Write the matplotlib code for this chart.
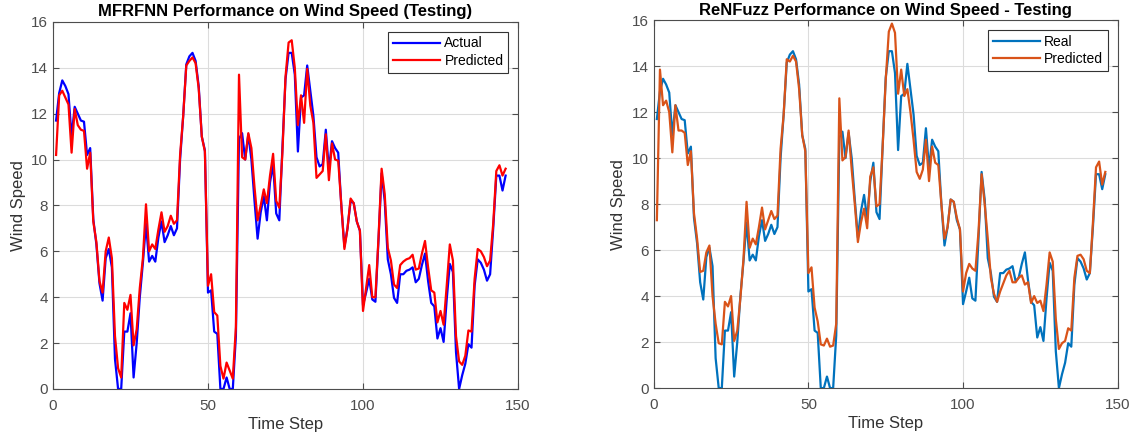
import numpy as np
import matplotlib
matplotlib.use("Agg")
import matplotlib.pyplot as plt

plt.rcParams['font.family'] = ['Liberation Sans', 'DejaVu Sans']

# --- data ---
actual = [11.7, 12.9, 13.45, 13.2, 12.85, 11.0, 12.3, 12.0, 11.7, 11.65,
          10.2, 10.5, 7.4, 6.3, 4.6, 3.85, 5.7, 6.1, 5.3, 1.3,
          0.0, 0.0, 2.5, 2.5, 3.3, 0.5, 2.0, 4.0, 5.5, 7.2,
          5.55, 5.8, 5.55, 6.6, 7.3, 6.4, 6.7, 7.1, 6.7, 7.0,
          10.0, 11.9, 14.15, 14.5, 14.65, 14.3, 13.2, 11.0, 10.4, 4.2,
          4.3, 2.5, 2.4, 0.0, 0.0, 0.5, 0.0, 0.0, 2.3, 10.9,
          11.15, 10.0, 11.1, 10.0, 8.2, 6.55, 7.7, 8.4, 7.35, 9.0,
          9.8, 7.65, 7.35, 10.5, 13.5, 14.65, 14.65, 13.7, 10.35, 12.7,
          12.8, 14.1, 13.0, 11.9, 10.1, 9.7, 9.8, 11.3, 9.55, 10.8,
          10.5, 10.3, 8.0, 6.2, 7.0, 8.2, 8.1, 7.3, 6.9, 3.65,
          4.2, 4.8, 3.9, 3.8, 6.5, 9.4, 8.2, 5.65, 5.0, 3.97,
          3.75, 5.0, 5.0, 5.15, 5.2, 5.3, 4.65, 4.8, 5.4, 5.9,
          4.7, 3.75, 3.6, 2.2, 2.65, 2.05, 3.9, 5.45, 5.1, 1.6,
          0.0, 0.6, 1.1, 1.95, 1.8, 4.5, 5.65, 5.5, 5.2, 4.72,
          5.0, 7.0, 9.3, 9.3, 8.65, 9.3]

pred_mfrfnn = [10.2, 12.8, 13.0, 12.7, 12.4, 10.3, 12.2, 11.5, 11.3, 11.25,
               9.6, 10.3, 7.3, 6.4, 4.7, 4.2, 6.0, 6.6, 5.7, 2.3,
               0.9, 0.5, 3.75, 3.45, 4.1, 1.9, 2.6, 4.4, 5.7, 8.05,
               6.0, 6.3, 6.1, 6.95, 7.7, 6.85, 7.1, 7.55, 7.2, 7.35,
               10.2, 11.9, 14.1, 14.3, 14.45, 14.2, 13.1, 11.0, 10.35, 4.5,
               5.0, 3.35, 3.2, 1.0, 0.45, 1.15, 0.8, 0.45, 2.7, 13.7,
               10.1, 10.0, 11.15, 10.5, 8.8, 7.35, 8.0, 8.7, 8.1, 9.3,
               10.25, 8.2, 7.9, 10.3, 13.6, 15.1, 15.2, 14.0, 11.5, 12.8,
               11.6, 13.95, 12.35, 11.6, 9.2, 9.35, 9.5, 11.1, 9.1, 10.7,
               10.0, 9.95, 8.0, 6.1, 7.0, 8.3, 8.1, 7.3, 6.9, 3.4,
               4.4, 5.4, 4.0, 4.0, 6.6, 9.6, 8.5, 6.15, 5.6, 4.55,
               4.4, 5.4, 5.55, 5.65, 5.7, 5.85, 5.2, 5.25, 5.9, 6.45,
               5.3, 4.3, 4.2, 2.9, 3.4, 2.8, 4.5, 6.3, 5.6, 2.3,
               1.2, 1.05, 1.45, 2.55, 2.5, 4.8, 6.1, 6.0, 5.75, 5.35,
               5.6, 7.2, 9.5, 9.75, 9.3, 9.6]

pred_renfuzz = [7.3, 13.85, 12.3, 12.5, 12.0, 10.25, 12.3, 11.2, 11.2, 11.1,
                9.7, 10.3, 7.6, 6.5, 5.05, 5.1, 5.9, 6.2, 4.0, 2.8,
                1.95, 1.9, 3.75, 3.55, 4.0, 2.05, 2.5, 3.9, 5.6, 8.1,
                6.1, 6.5, 6.25, 7.0, 7.85, 6.9, 7.3, 7.7, 7.35, 7.5,
                10.4, 11.9, 14.3, 14.2, 14.45, 14.2, 13.0, 11.0, 10.3, 5.0,
                5.25, 3.5, 2.9, 1.9, 1.85, 2.15, 1.8, 1.85, 2.8, 12.6,
                9.9, 10.05, 11.2, 9.5, 8.0, 6.35, 7.2, 7.8, 6.95, 9.2,
                9.6, 7.9, 8.0, 10.5, 13.4, 15.5, 15.85, 15.45, 12.8, 13.85,
                12.7, 13.0, 12.0, 10.8, 9.4, 9.1, 9.5, 10.8, 9.0, 10.5,
                9.8, 9.7, 8.0, 6.5, 7.0, 8.2, 8.1, 7.4, 6.9, 4.2,
                5.0, 5.4, 5.2, 5.1, 6.8, 9.3, 8.0, 6.5, 4.8, 4.1,
                3.75, 4.2, 4.55, 4.9, 5.1, 4.6, 4.6, 4.8, 4.9, 4.5,
                4.6, 3.7, 4.0, 3.7, 3.8, 3.35, 4.5, 5.9, 5.5, 3.0,
                1.7, 1.95, 2.05, 2.6, 2.5, 4.8, 5.75, 5.8, 5.6, 5.1,
                5.0, 7.2, 9.6, 9.85, 8.85, 9.4]

steps = np.arange(1, len(actual) + 1)

fig = plt.figure(figsize=(11.37, 4.38), dpi=100)
ax1 = fig.add_axes([0.0466, 0.112, 0.409, 0.838])
ax2 = fig.add_axes([0.575, 0.114, 0.408, 0.840])

panels = [
    (ax1, 'MFRFNN Performance on Wind Speed (Testing)', pred_mfrfnn,
     ('Actual', '#0000FF'), ('Predicted', '#FF0000')),
    (ax2, 'ReNFuzz Performance on Wind Speed - Testing', pred_renfuzz,
     ('Real', '#0072BD'), ('Predicted', '#D95319')),
]

for ax, title, pred, (lab_a, col_a), (lab_p, col_p) in panels:
    ax.plot(steps, actual, color=col_a, linewidth=1.6, label=lab_a)
    ax.plot(steps, pred, color=col_p, linewidth=1.6, label=lab_p)

    ax.set_xlim(0, 150)
    ax.set_ylim(0, 16)
    ax.set_xticks([0, 50, 100, 150])
    ax.set_yticks(np.arange(0, 17, 2))
    ax.tick_params(direction='in', labelsize=11, colors='#4d4d4d', length=4,
                   top=True, right=True, labeltop=False, labelright=False)
    ax.tick_params(axis='x', pad=7)
    for sp in ax.spines.values():
        sp.set_color('#4d4d4d')
        sp.set_linewidth(0.8)
    ax.grid(True, color='#dcdcdc', linewidth=0.8)
    ax.set_axisbelow(True)

    ax.set_title(title, fontsize=12, fontweight='bold', pad=4)
    ax.set_xlabel('Time Step', fontsize=12, color='#333333', labelpad=3)
    ax.set_ylabel('Wind Speed', fontsize=12, color='#333333', labelpad=4)

    leg = ax.legend(loc='upper right', fontsize=10, fancybox=False,
                    framealpha=1, edgecolor='#333333', handlelength=3.4,
                    borderpad=0.35, labelspacing=0.25, handletextpad=0.3,
                    borderaxespad=0.7)
    leg.get_frame().set_linewidth(0.8)

fig.savefig('out.png', dpi=100)
